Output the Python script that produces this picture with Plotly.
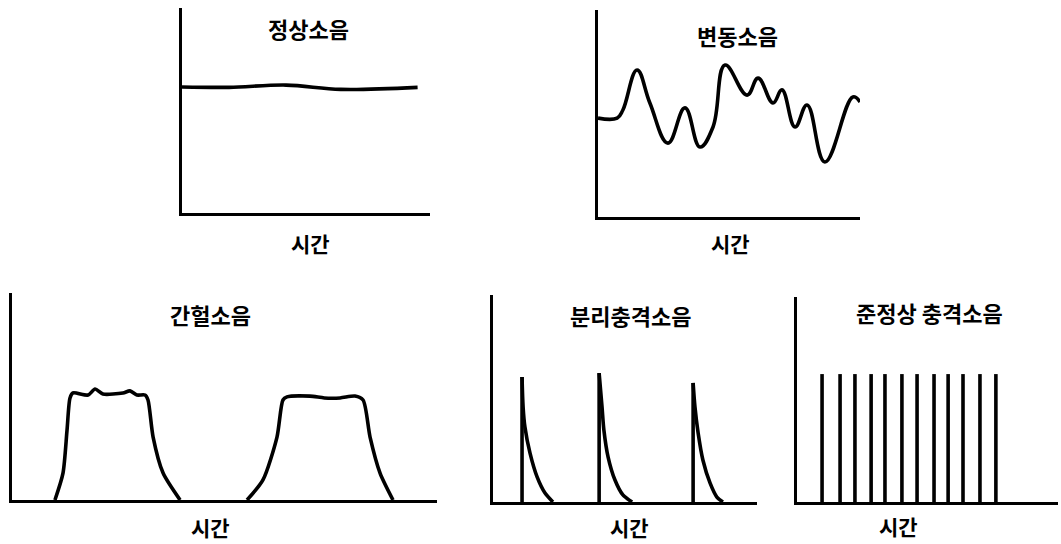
import plotly.graph_objects as go

W, H = 1061, 544

# ---------------- data ----------------
panel_titles = ["정상소음", "변동소음", "간헐소음", "분리충격소음", "준정상 충격소음"]
time_label = "시간"

# Panel 1: steady noise
steady_t = [0, 1.9, 4.2, 6.4, 9.5]
steady_level = [61.5, 61.3, 62.4, 60.3, 61.3]

# Panel 2: fluctuating noise
fluct_t = [0, 0.73, 0.95, 1.49, 1.98, 2.67, 3.32, 3.89, 4.39, 4.85, 5.69,
           6.11, 6.68, 7.02, 7.52, 7.98, 8.66, 9.73, 10.0]
fluct_level = [47.8, 47.8, 51.7, 71.0, 55.1, 35.7, 52.7, 33.8, 43.5, 73.4, 58.9,
               67.1, 55.1, 61.4, 43.5, 54.1, 26.6, 58.0, 55.6]

# Panel 3: intermittent noise (two bursts)
burst1_t = [2.02, 2.40, 2.59, 2.73, 2.87, 3.58, 3.91, 4.28, 5.22, 5.55, 5.88, 6.26,
            6.40, 6.64, 7.11, 7.91]
burst1_level = [0, 13.0, 33.8, 49.3, 51.7, 50.7, 53.6, 51.2, 51.7, 52.7, 50.7, 50.7,
                48.3, 30.4, 13.0, 0]
burst2_t = [11.06, 11.81, 12.47, 12.75, 12.94, 14.02, 14.70, 15.44, 16.14, 16.52,
            16.85, 17.32, 17.93]
burst2_level = [0, 9.7, 30.4, 48.3, 49.8, 50.2, 49.3, 49.3, 50.2, 48.3,
                30.4, 13.0, 0]

# Panel 4: isolated impulsive noise
impulse_t = [1.10, 4.02, 7.58]
impulse_peak = [60.4, 62.3, 57.5]
decay1_t = [1.10, 1.14, 1.21, 1.40, 1.67, 1.97, 2.27]
decay1_level = [60.4, 45.9, 36.2, 23.7, 12.1, 4.3, 0]
decay2_t = [4.02, 4.13, 4.20, 4.36, 4.62, 4.92, 5.27]
decay2_level = [62.3, 45.9, 34.8, 21.7, 10.6, 3.4, 0]
decay3_t = [7.58, 7.65, 7.77, 7.95, 8.22, 8.48, 8.71]
decay3_level = [57.5, 45.9, 33.3, 20.3, 9.2, 2.4, 0]

# Panel 5: quasi-steady impulsive noise
quasi_t = [0.96, 1.65, 2.22, 2.84, 3.37, 4.02, 4.60, 5.25, 5.79, 6.36, 7.01, 7.62]
quasi_peak = [62.4, 62.4, 62.4, 62.4, 62.4, 62.4, 62.4, 62.4, 62.4, 62.4, 62.4, 62.4]

# ---------------- layout geometry (pixels) ----------------
# (x_left, x_right, y_top, y_bottom)
boxes = [
    (182, 430, 8, 213),
    (598, 860, 10, 217),
    (12, 437, 293, 500),
    (493, 757, 295, 502),
    (797, 1058, 297, 502),
]
x_ranges = [[0, 10], [0, 10], [0, 20], [0, 10], [0, 10]]
title_pos = [(308, 28), (737, 35), (210, 314), (630, 315), (929, 312)]
label_pos = [(310, 243), (730, 243), (210, 527), (629, 527), (898, 526)]

LW = 3.6
FONT = "Noto Sans CJK KR"

fig = go.Figure()


def spikes(ts, peaks):
    xs, ys = [], []
    for t, p in zip(ts, peaks):
        xs += [t, t, None]
        ys += [0, p, None]
    return xs, ys


traces = [
    (1, steady_t, steady_level, 1.0),
    (2, fluct_t, fluct_level, 1.2),
    (3, burst1_t, burst1_level, 0.7),
    (3, burst2_t, burst2_level, 0.7),
    (4, decay1_t, decay1_level, 0.8),
    (4, decay2_t, decay2_level, 0.8),
    (4, decay3_t, decay3_level, 0.8),
]
for i, xs, ys, sm in traces:
    fig.add_trace(go.Scatter(
        x=xs, y=ys, mode="lines",
        line=dict(color="black", width=LW, shape="spline", smoothing=sm),
        xaxis="x" if i == 1 else f"x{i}", yaxis="y" if i == 1 else f"y{i}",
        hoverinfo="skip", showlegend=False))

sx, sy = spikes(impulse_t, impulse_peak)
fig.add_trace(go.Scatter(x=sx, y=sy, mode="lines", line=dict(color="black", width=LW),
                         xaxis="x4", yaxis="y4", hoverinfo="skip", showlegend=False))
qx, qy = spikes(quasi_t, quasi_peak)
fig.add_trace(go.Scatter(x=qx, y=qy, mode="lines", line=dict(color="black", width=LW),
                         xaxis="x5", yaxis="y5", hoverinfo="skip", showlegend=False))

layout = dict(
    width=W, height=H, autosize=False,
    margin=dict(l=0, r=0, t=0, b=0),
    paper_bgcolor="white", plot_bgcolor="white",
    showlegend=False,
)
axis_common = dict(showgrid=False, zeroline=False, showticklabels=False, ticks="",
                   showline=True, linecolor="black", linewidth=2.8, fixedrange=True)
for k, (x0, x1, yt, yb) in enumerate(boxes):
    n = k + 1
    xa = "xaxis" if n == 1 else f"xaxis{n}"
    ya = "yaxis" if n == 1 else f"yaxis{n}"
    layout[xa] = dict(axis_common, domain=[x0 / W, x1 / W], range=x_ranges[k],
                      anchor="y" if n == 1 else f"y{n}")
    layout[ya] = dict(axis_common, domain=[1 - yb / H, 1 - yt / H], range=[0, 100],
                      anchor="x" if n == 1 else f"x{n}")

annotations = []
for (px, py), txt in zip(title_pos, panel_titles):
    annotations.append(dict(x=px / W, y=1 - py / H, xref="paper", yref="paper",
                            text=txt, showarrow=False, xanchor="center", yanchor="middle",
                            font=dict(family=FONT, size=22, color="black", weight="bold")))
for (px, py) in label_pos:
    annotations.append(dict(x=px / W, y=1 - py / H, xref="paper", yref="paper",
                            text=time_label, showarrow=False, xanchor="center", yanchor="middle",
                            font=dict(family=FONT, size=21, color="black", weight="bold")))
layout["annotations"] = annotations

fig.update_layout(**layout)
fig.write_html(
    "out.html",
    config={"displayModeBar": False},
    post_script="document.body.style.margin='0';document.body.style.overflow='hidden';",
)
